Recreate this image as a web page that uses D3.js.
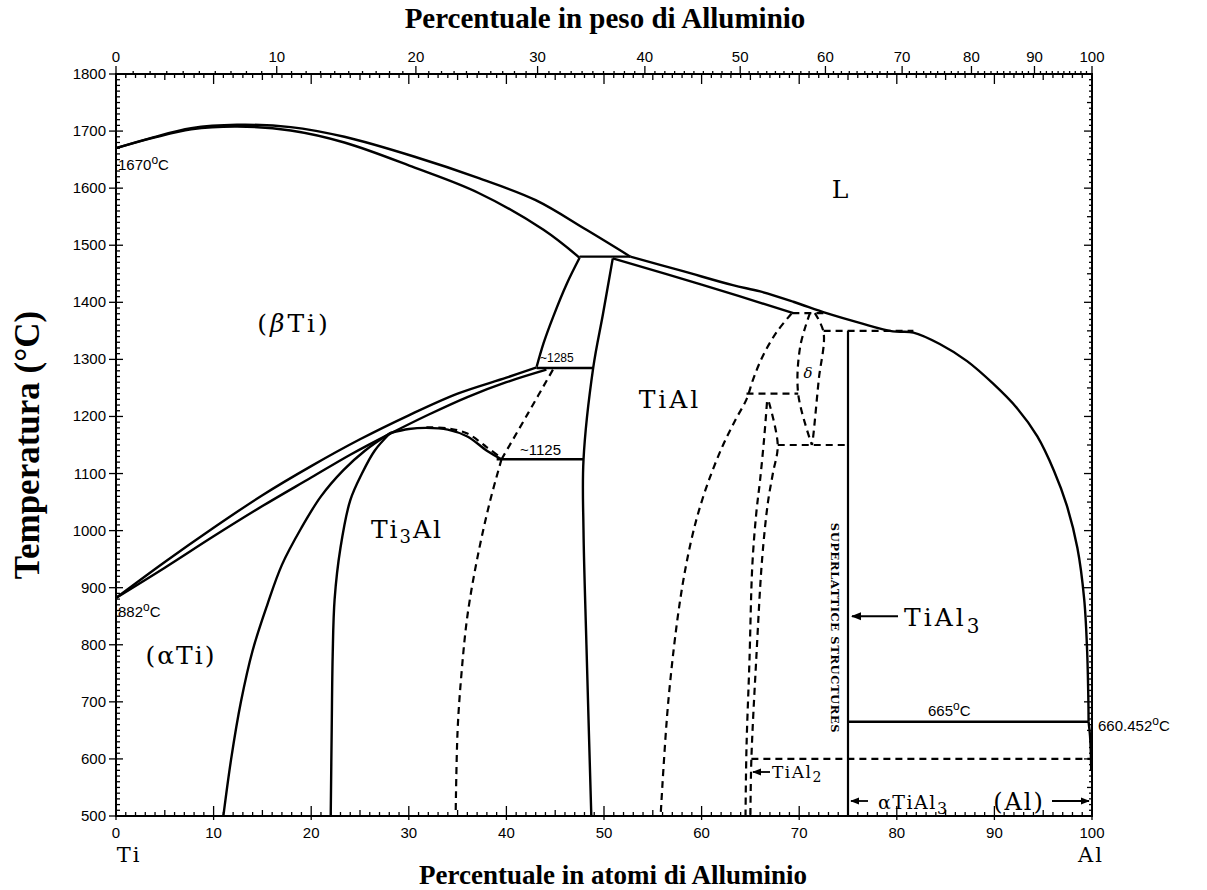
<!DOCTYPE html>
<html>
<head>
<meta charset="utf-8">
<script src="https://cdn.jsdelivr.net/npm/d3@7"></script>
<style>
  body { margin: 0; background: #fff; }
  svg { display: block; }
</style>
</head>
<body>
<div id="chart"></div>
<script>
// Ti-Al phase diagram: [at% Al, temperature °C]
var liquidusLeft = [[0,1670],[3.8,1689],[7.7,1705],[12.4,1711],[17.9,1707],[23.4,1690],[30.6,1655],[37.1,1618],[43,1579],[48.2,1527],[52.7,1480]];
var solidusBeta = [[0,1670],[3.8,1688],[7.7,1703],[12.4,1708],[17.9,1701],[23.4,1680],[30.6,1636],[37.1,1592],[43.8,1527],[47.5,1478]];
var liquidusRight = [[52.7,1480],[58,1455],[63.2,1430],[66,1419],[69.4,1401],[72.8,1381],[76.2,1364],[79.6,1349],[81.7,1347],[84.4,1327],[87.2,1297],[89.9,1257],[92.3,1215],[94.4,1165],[96.1,1105],[97.4,1045],[98.5,970],[99.2,880],[99.5,790],[99.63,700],[99.65,665]];
var solidusTiAl = [[50.9,1477],[60,1431],[69.4,1381]];
var betaTransusUpper = [[0,882],[5,945],[10,1005],[15,1062],[20,1113],[25,1160],[30,1202],[35,1240],[40,1268],[43.1,1286]];
var betaTransusLower = [[0,882],[5,935],[10,990],[15,1043],[20,1093],[24,1133],[28.1,1170],[32,1203],[36,1234],[40,1260],[44.1,1282]];
var alphaSolvus = [[28.1,1171],[25.5,1140],[23.3,1106],[21,1060],[19,1005],[17,940],[15.5,870],[14,790],[12.8,700],[11.8,600],[11,500]];
var alpha2Left = [[28.1,1171],[26.5,1140],[25.2,1100],[24,1053],[23,970],[22.4,880],[22.2,780],[22.1,650],[22,500]];
var alpha2Dome = [[28.1,1171],[30,1178],[31.8,1180],[34,1177],[36,1165],[38,1140],[39.5,1125]];
var alpha2DomeDashed = [[31.8,1181],[34,1179],[36,1170],[38,1146],[39.5,1127]];
var alpha2Right = [[39.5,1125],[38.3,1050],[37,950],[36,850],[35.4,750],[35,650],[34.8,500]];
var alphaRight = [[39.5,1125],[42.2,1205],[44.8,1283]];
var betaAlphaLeft = [[47.5,1478],[46.2,1433],[44.8,1375],[43.8,1328],[43.1,1287]];
var tialLeft = [[50.9,1477],[49.9,1380],[48.9,1286],[47.9,1124],[47.9,1000],[48.2,800],[48.7,500]];
var tialRight = [[69.2,1380],[67.7,1348],[66.3,1307],[65.3,1266],[64.6,1230],[63.5,1195],[62.2,1150],[61,1100],[59.9,1045],[58.9,980],[57.8,878],[56.6,703],[55.8,500]];
var deltaLeft = [[71.1,1381],[70.1,1322],[69.9,1239],[71.3,1150]];
var deltaRight = [[71.6,1381],[72.5,1347],[72.0,1264],[71.4,1160],[71.3,1150]];
var tial2Left = [[66.7,1225],[66.4,1160],[66.0,1090],[65.6,1030],[65.2,940],[64.9,770],[64.6,620],[64.5,500]];
var tial2Right = [[66.9,1225],[67.8,1150],[67.3,1100],[66.8,1050],[66.2,950],[65.6,775],[65.1,600],[65.0,500]];
var alSolvus = [[99.65,665],[99.8,640],[99.88,610],[99.92,580]];
var solidIsotherms = [[47.5,52.7,1480],[43.1,48.9,1285],[39.0,47.9,1125],[75,99.65,665]];
var dashedIsotherms = [[69.3,72.8,1381],[64.6,69.9,1240],[67.8,75,1150],[72.5,81.7,1350],[65.1,100,600]];
var tial3Line = [[75,1350],[75,500]];

var tempTicks = d3.range(500, 1801, 100);
var atTicks = d3.range(0, 101, 10);
var wtTicks = d3.range(0, 101, 10);

var width = 1207, height = 890;
var fontSans = "'Liberation Sans', Arial, sans-serif";
var fontSerif = "'DejaVu Serif', serif";
var fontTimes = "'Liberation Serif', 'Times New Roman', serif";

var x = d3.scaleLinear().domain([0, 100]).range([116, 1092]);
var y = d3.scaleLinear().domain([500, 1800]).range([816, 74]);

function wtToAt(w) {
  var a = w / 26.98, t = (100 - w) / 47.87;
  return 100 * a / (a + t);
}

var svg = d3.select("#chart").append("svg")
  .attr("width", width).attr("height", height);

var defs = svg.append("defs");
defs.append("marker").attr("id", "arr")
  .attr("viewBox", "0 0 10 10").attr("refX", 9).attr("refY", 5)
  .attr("markerWidth", 5).attr("markerHeight", 5).attr("orient", "auto-start-reverse")
  .append("path").attr("d", "M0,1 L10,5 L0,9 z").attr("fill", "#000");

// frame
svg.append("rect")
  .attr("x", x(0)).attr("y", y(1800))
  .attr("width", x(100) - x(0)).attr("height", y(500) - y(1800))
  .attr("fill", "none").attr("stroke", "#000").attr("stroke-width", 2);

var ticks = svg.append("g").attr("stroke", "#000").attr("stroke-width", 1.3);

// bottom & top at% ticks
var atMinor = d3.range(0, 101, 1);
ticks.selectAll("line.bm").data(atMinor).enter().append("line")
  .attr("x1", d => x(d)).attr("x2", d => x(d))
  .attr("y1", y(500)).attr("y2", d => y(500) - (d % 10 === 0 ? 10 : (d % 5 === 0 ? 6 : 4)));
ticks.selectAll("line.bd").data(atTicks).enter().append("line")
  .attr("x1", d => x(d)).attr("x2", d => x(d))
  .attr("y1", y(500)).attr("y2", y(500) + 4);
ticks.selectAll("line.tm").data(atMinor).enter().append("line")
  .attr("x1", d => x(d)).attr("x2", d => x(d))
  .attr("y1", y(1800)).attr("y2", d => y(1800) + (d % 10 === 0 ? 10 : (d % 5 === 0 ? 6 : 4)));

// top wt% ticks
var wtMinor = d3.range(0, 101, 1);
ticks.selectAll("line.wm").data(wtMinor).enter().append("line")
  .attr("x1", d => x(wtToAt(d))).attr("x2", d => x(wtToAt(d)))
  .attr("y1", y(1800)).attr("y2", d => y(1800) - (d % 10 === 0 ? 8 : 3));

// left / right temperature ticks
var tMinor = d3.range(500, 1801, 10);
ticks.selectAll("line.lm").data(tMinor).enter().append("line")
  .attr("x1", x(0)).attr("x2", d => x(0) + (d % 100 === 0 ? 7 : 4))
  .attr("y1", d => y(d)).attr("y2", d => y(d));
ticks.selectAll("line.lM").data(tempTicks).enter().append("line")
  .attr("x1", x(0)).attr("x2", x(0) - 7)
  .attr("y1", d => y(d)).attr("y2", d => y(d));
ticks.selectAll("line.rm").data(tMinor).enter().append("line")
  .attr("x1", x(100)).attr("x2", d => x(100) - (d % 100 === 0 ? 8 : (d % 50 === 0 ? 5 : 3)))
  .attr("y1", d => y(d)).attr("y2", d => y(d));

// tick labels
var labels = svg.append("g").attr("font-family", fontSans).attr("font-size", 15).attr("fill", "#000");
labels.selectAll("text.yl").data(tempTicks).enter().append("text")
  .attr("x", x(0) - 10).attr("y", d => y(d) + 5)
  .attr("text-anchor", "end").text(d => d);
labels.selectAll("text.xl").data(atTicks).enter().append("text")
  .attr("x", d => x(d)).attr("y", y(500) + 22)
  .attr("text-anchor", "middle").text(d => d);
labels.selectAll("text.wl").data(wtTicks).enter().append("text")
  .attr("x", d => x(wtToAt(d))).attr("y", y(1800) - 12)
  .attr("text-anchor", "middle").text(d => d);

// axis titles
svg.append("text").attr("x", 605).attr("y", 28).attr("text-anchor", "middle")
  .attr("font-family", fontTimes).attr("font-weight", "bold").attr("font-size", 29)
  .text("Percentuale in peso di Alluminio");
svg.append("text").attr("x", 613).attr("y", 884).attr("text-anchor", "middle")
  .attr("font-family", fontTimes).attr("font-weight", "bold").attr("font-size", 27)
  .text("Percentuale in atomi di Alluminio");
svg.append("text").attr("transform", "translate(39,445) rotate(-90)").attr("text-anchor", "middle")
  .attr("font-family", fontTimes).attr("font-weight", "bold").attr("font-size", 35)
  .text("Temperatura (°C)");

// phase boundaries
var smooth = d3.line().x(d => x(d[0])).y(d => y(d[1])).curve(d3.curveCatmullRom.alpha(0.5));
var straight = d3.line().x(d => x(d[0])).y(d => y(d[1]));

var solidCurves = [liquidusLeft, solidusBeta, liquidusRight, solidusTiAl, betaTransusUpper,
  betaTransusLower, alphaSolvus, alpha2Left, alpha2Dome, betaAlphaLeft, tialLeft, alSolvus];
var dashedCurves = [alpha2DomeDashed, alpha2Right, alphaRight, tialRight, deltaLeft, deltaRight,
  tial2Left, tial2Right];

var lines = svg.append("g").attr("fill", "none").attr("stroke", "#000");
lines.selectAll("path.solid").data(solidCurves).enter().append("path")
  .attr("d", smooth).attr("stroke-width", 2.4).attr("stroke-linejoin", "round");
lines.selectAll("path.dash").data(dashedCurves).enter().append("path")
  .attr("d", smooth).attr("stroke-width", 2.2).attr("stroke-dasharray", "7,5");
lines.append("path").attr("d", straight(tial3Line)).attr("stroke-width", 2.2);
lines.selectAll("line.iso").data(solidIsotherms).enter().append("line")
  .attr("x1", d => x(d[0])).attr("x2", d => x(d[1]))
  .attr("y1", d => y(d[2])).attr("y2", d => y(d[2])).attr("stroke-width", 2.4);
lines.selectAll("line.isod").data(dashedIsotherms).enter().append("line")
  .attr("x1", d => x(d[0])).attr("x2", d => x(d[1]))
  .attr("y1", d => y(d[2])).attr("y2", d => y(d[2]))
  .attr("stroke-width", 2.2).attr("stroke-dasharray", "7,5");

// phase labels
var ann = svg.append("g").attr("fill", "#000").attr("font-family", fontSerif);
function label(txt, px, py, size, anchor, ls) {
  return ann.append("text").attr("x", px).attr("y", py).attr("font-size", size)
    .attr("letter-spacing", ls || 0)
    .attr("text-anchor", anchor || "middle").text(txt);
}
label("L", 840, 198, 25);
var bt = label("(", 294, 332, 25, "middle", 3);
bt.append("tspan").attr("font-style", "italic").text("β");
bt.append("tspan").text("Ti)");
label("TiAl", 670, 408, 25, "middle", 3);
label("(αTi)", 181, 664, 25, "middle", 2);
label("Ti", 129, 862, 21, "middle", 2);
label("Al", 1091, 862, 21, "middle", 2);
ann.append("text").attr("x", 808).attr("y", 378).attr("font-size", 15)
  .attr("font-style", "italic").attr("text-anchor", "middle").text("δ");

var t3 = label("Ti", 407, 538, 25, "middle", 2);
t3.append("tspan").attr("font-size", 18).attr("dy", 5).text("3");
t3.append("tspan").attr("dy", -5).text("Al");

var t1 = label("TiAl", 904, 626, 25, "start", 3);
t1.append("tspan").attr("font-size", 20).attr("dy", 7).text("3");
ann.append("line").attr("x1", 898).attr("x2", 852).attr("y1", y(850)).attr("y2", y(850))
  .attr("stroke", "#000").attr("stroke-width", 2).attr("marker-end", "url(#arr)");

var t2 = label("TiAl", 772, 778, 17, "start", 1.5);
t2.append("tspan").attr("font-size", 14).attr("dy", 4).text("2");
ann.append("line").attr("x1", 770).attr("x2", 753).attr("y1", 772).attr("y2", 772)
  .attr("stroke", "#000").attr("stroke-width", 1.8).attr("marker-end", "url(#arr)");

var t4 = label("αTiAl", 878, 809, 19, "start", 1.5);
t4.append("tspan").attr("font-size", 16).attr("dy", 5).text("3");
ann.append("line").attr("x1", 868).attr("x2", 851).attr("y1", 801).attr("y2", 801)
  .attr("stroke", "#000").attr("stroke-width", 1.8).attr("marker-end", "url(#arr)");

label("(Al)", 1019, 810, 24, "middle", 2);
ann.append("line").attr("x1", 1052).attr("x2", 1089).attr("y1", 801).attr("y2", 801)
  .attr("stroke", "#000").attr("stroke-width", 1.8).attr("marker-end", "url(#arr)");

ann.append("text").attr("transform", "translate(831,628) rotate(90)")
  .attr("text-anchor", "middle").attr("font-size", 11.5).attr("font-weight", "bold")
  .attr("letter-spacing", 0.6).text("SUPERLATTICE STRUCTURES");

// temperatures
var tl = svg.append("g").attr("font-family", fontSans).attr("fill", "#000");
function temp(txt, px, py, size, anchor) {
  var t = tl.append("text").attr("x", px).attr("y", py).attr("font-size", size)
    .attr("text-anchor", anchor || "start").text(txt);
  return t;
}
function deg(txt, px, py, size, anchor) {
  var t = tl.append("text").attr("x", px).attr("y", py).attr("font-size", size)
    .attr("text-anchor", anchor || "start").text(txt);
  t.append("tspan").attr("font-size", size * 0.8).attr("dy", -6).text("o");
  t.append("tspan").attr("dy", 6).text("C");
  return t;
}
deg("1670", 118, 170, 15);
deg("882", 118, 617, 15);
deg("665", 928, 716, 15);
deg("660.452", 1098, 731, 15);
temp("~1285", 540, 362, 12);
temp("~1125", 520, 455, 15);
</script>
</body>
</html>
